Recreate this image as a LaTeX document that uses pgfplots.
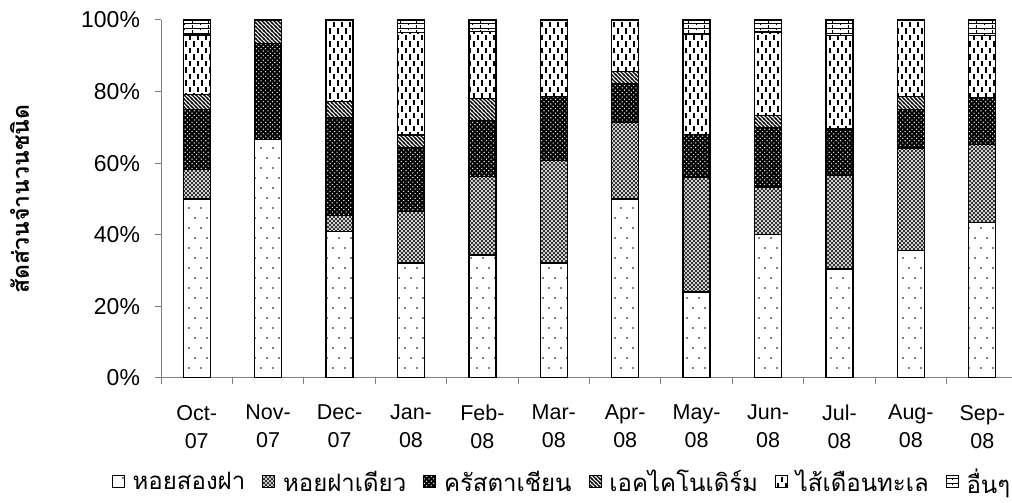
\documentclass[border=0pt]{standalone}
\usepackage{fontspec}
\setmainfont{Liberation Sans}
\newfontfamily\thaifont[Script=Thai]{Loma}
\usepackage{pgfplots}
\usepackage{pgfplotstable}
\pgfplotsset{compat=1.18}
\usetikzlibrary{patterns}

% fill patterns for the six groups
\pgfdeclarepatternformonly{sparsedots}{\pgfqpoint{-1pt}{-1pt}}{\pgfqpoint{13pt}{21pt}}{\pgfqpoint{12pt}{20pt}}{%
  \pgfpathcircle{\pgfqpoint{3pt}{5pt}}{0.9pt}%
  \pgfpathcircle{\pgfqpoint{9pt}{15pt}}{0.9pt}%
  \pgfusepath{fill}}
\pgfdeclarepatternformonly{finecross}{\pgfqpoint{-0.5pt}{-0.5pt}}{\pgfqpoint{4.5pt}{4.5pt}}{\pgfqpoint{4pt}{4pt}}{%
  \pgfsetlinewidth{0.9pt}%
  \pgfpathmoveto{\pgfqpoint{0pt}{0pt}}\pgfpathlineto{\pgfqpoint{4pt}{4pt}}%
  \pgfpathmoveto{\pgfqpoint{0pt}{4pt}}\pgfpathlineto{\pgfqpoint{4pt}{0pt}}%
  \pgfusepath{stroke}}
\pgfdeclarepatternformonly{smalldots}{\pgfqpoint{-1pt}{-1pt}}{\pgfqpoint{5.5pt}{5.5pt}}{\pgfqpoint{4.6pt}{4.6pt}}{%
  \pgfpathcircle{\pgfqpoint{1.15pt}{1.15pt}}{0.7pt}%
  \pgfpathcircle{\pgfqpoint{3.45pt}{3.45pt}}{0.7pt}%
  \pgfusepath{fill}}
\pgfdeclarepatternformonly{nwstripes}{\pgfqpoint{-1pt}{-1pt}}{\pgfqpoint{5pt}{5pt}}{\pgfqpoint{4pt}{4pt}}{%
  \pgfsetlinewidth{1.1pt}%
  \pgfpathmoveto{\pgfqpoint{-1pt}{5pt}}\pgfpathlineto{\pgfqpoint{5pt}{-1pt}}%
  \pgfusepath{stroke}}
\pgfdeclarepatternformonly{vdashes}{\pgfqpoint{-1pt}{-1pt}}{\pgfqpoint{9pt}{14pt}}{\pgfqpoint{8pt}{13pt}}{%
  \pgfsetlinewidth{1.5pt}%
  \pgfpathmoveto{\pgfqpoint{2pt}{1pt}}\pgfpathlineto{\pgfqpoint{2pt}{6.5pt}}%
  \pgfpathmoveto{\pgfqpoint{6pt}{7.5pt}}\pgfpathlineto{\pgfqpoint{6pt}{13pt}}%
  \pgfusepath{stroke}}
\pgfdeclarepatternformonly{smallbricks}{\pgfqpoint{-1pt}{-1pt}}{\pgfqpoint{17pt}{6pt}}{\pgfqpoint{16pt}{5pt}}{%
  \pgfsetlinewidth{0.9pt}%
  \pgfpathmoveto{\pgfqpoint{0pt}{0pt}}\pgfpathlineto{\pgfqpoint{16pt}{0pt}}%
  \pgfpathmoveto{\pgfqpoint{0pt}{0pt}}\pgfpathlineto{\pgfqpoint{0pt}{2.5pt}}%
  \pgfpathmoveto{\pgfqpoint{8pt}{2.5pt}}\pgfpathlineto{\pgfqpoint{8pt}{5pt}}%
  \pgfusepath{stroke}}

% share of species per group, in percent
\pgfplotstableread{
x  bivalve gastro crust echino poly  other
0  50.00   8.33   16.67 4.17   16.67 4.17
1  66.67   0.00   26.67 6.66   0.00  0.00
2  40.91   4.55   27.27 4.55   22.72 0.00
3  32.14   14.29  17.86 3.57   28.57 3.57
4  34.37   21.88  15.62 6.25   18.75 3.13
5  32.14   28.57  17.86 0.00   21.43 0.00
6  50.00   21.43  10.71 3.57   14.29 0.00
7  24.00   32.00  12.00 0.00   28.00 4.00
8  40.00   13.33  16.67 3.33   23.33 3.34
9  30.43   26.09  13.04 0.00   26.09 4.35
10 35.71   28.57  10.71 3.57   21.43 0.01
11 43.48   21.74  13.04 0.00   17.39 4.35
}\datatable

\begin{document}
\begin{tikzpicture}
\useasboundingbox (0,0) rectangle (1012pt,503pt);
\begin{axis}[
  at={(161pt,125pt)}, anchor=south west,
  scale only axis, width=857pt, height=358pt,
  ybar stacked, bar width=27pt,
  xmin=-0.5, xmax=11.5, ymin=0, ymax=100,
  axis x line*=bottom, axis y line*=left,
  axis line style={draw=black!50, line width=1pt, -},
  tick style={draw=black!50, line width=1pt},
  tick align=outside,
  major tick length=6.5pt,
  ytick={0,20,...,100},
  yticklabel={\pgfmathprintnumber{\tick}\%},
  /pgf/number format/assume math mode=true,
  yticklabel style={font=\fontsize{23}{27}\selectfont, xshift=-11pt},
  xtick={-0.5,0.5,...,11.5},
  x tick label as interval,
  xticklabels={Oct-\\07,Nov-\\07,Dec-\\07,Jan-\\08,Feb-\\08,Mar-\\08,Apr-\\08,May-\\08,Jun-\\08,Jul-\\08,Aug-\\08,Sep-\\08},
  xticklabel style={font=\fontsize{21.5}{28}\selectfont, align=center, yshift=-17pt},
  ylabel={\thaifont\bfseries สัดส่วนจำนวนชนิด},
  ylabel style={font=\fontsize{23}{27}\selectfont, at={(axis description cs:-0.165,0.5)}, anchor=center},
  every axis plot/.append style={draw=black, line width=1.3pt},
  legend columns=-1,
  legend style={at={(axis description cs:0.468,-0.29)}, anchor=center, draw=none,
    font=\thaifont\fontsize{24}{26}\selectfont, inner sep=0pt,
    /tikz/every odd column/.append style={column sep=6pt},
    /tikz/every even column/.append style={column sep=15pt}},
  legend image code/.code={\draw[#1, line width=0.8pt] (0pt,-6pt) rectangle (12pt,6pt);},
]
\addplot[fill=white, postaction={pattern=sparsedots, pattern color=black}] table[x=x,y=bivalve]{\datatable};
\addplot[fill=white, postaction={pattern=finecross, pattern color=black!80}] table[x=x,y=gastro]{\datatable};
\addplot[fill=black, postaction={pattern=smalldots, pattern color=white}] table[x=x,y=crust]{\datatable};
\addplot[fill=white, postaction={pattern=nwstripes, pattern color=black}] table[x=x,y=echino]{\datatable};
\addplot[fill=white, postaction={pattern=vdashes, pattern color=black}] table[x=x,y=poly]{\datatable};
\addplot[fill=white, postaction={pattern=smallbricks, pattern color=black}] table[x=x,y=other]{\datatable};
\legend{หอยสองฝา,หอยฝาเดียว,ครัสตาเชียน,เอคไคโนเดิร์ม,ไส้เดือนทะเล,อื่นๆ}
\end{axis}
\end{tikzpicture}
\end{document}
